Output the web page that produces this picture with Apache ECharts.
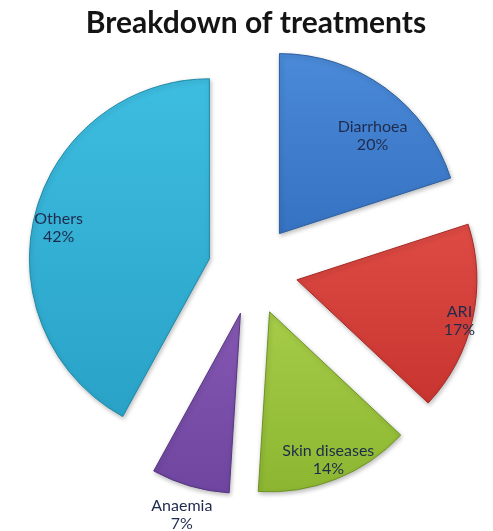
<!DOCTYPE html>
<html>
<head>
<meta charset="utf-8">
<title>Breakdown of treatments</title>
<script src="https://cdn.jsdelivr.net/npm/echarts@6/dist/echarts.min.js"></script>
<style>
  html, body { margin: 0; padding: 0; background: #fff; }
  #chart { width: 493px; height: 531px; }
</style>
</head>
<body>
<div id="chart"></div>
<script>
// data
var categories = ['Diarrhoea', 'ARI', 'Skin diseases', 'Anaemia', 'Others'];
var shares = [20, 17, 14, 7, 42];

// look of each slice (top colour, bottom colour, edge)
var topColors = ['#4a8ad8', '#de4a44', '#a6cc48', '#8558b2', '#3dbde0'];
var bottomColors = ['#3672c2', '#c8342f', '#8cb631', '#6e45a0', '#2aa2c8'];
var edgeColors = ['#2d5f9e', '#a52a26', '#6f9226', '#563581', '#228aa8'];
// how far out each label sits, as a share of the radius, plus a small nudge
var labelReach = [0.75, 0.92, 0.87, 1.15, 0.86];
var labelNudge = [[12, 14], [-2, 4], [0, 0], [0, 0], [2, 8]];

var R = 180;
var CENTER = [253, 270];
var OFFSET = 45;

var chart = echarts.init(document.getElementById('chart'));

function sliceData(showLabelFor) {
    return categories.map(function (name, i) {
        return {
            name: name,
            value: shares[i],
            selected: true,
            label: { show: showLabelFor === i }
        };
    });
}

function fill(i) {
    return new echarts.graphic.LinearGradient(0, 0, 0, 1, [
        { offset: 0, color: topColors[i] },
        { offset: 1, color: bottomColors[i] }
    ]);
}

// a centred label moves sideways by half of any one-sided padding
function sidePadding(n) {
    return [0, Math.max(-2 * n[0], 0), 0, Math.max(2 * n[0], 0)];
}

var series = [{
    type: 'pie',
    center: CENTER,
    radius: [0, R],
    startAngle: 90,
    selectedMode: 'multiple',
    selectedOffset: OFFSET,
    silent: true,
    animation: false,
    label: { show: false },
    labelLine: { show: false },
    emphasis: { disabled: true },
    data: categories.map(function (name, i) {
        return {
            name: name,
            value: shares[i],
            selected: true,
            itemStyle: {
                color: fill(i),
                borderColor: edgeColors[i],
                borderWidth: 1,
                shadowColor: 'rgba(0,0,0,0.25)',
                shadowBlur: 4,
                shadowOffsetX: 1,
                shadowOffsetY: 2
            },
            select: {
                itemStyle: {
                    color: fill(i),
                    borderColor: edgeColors[i],
                    borderWidth: 1
                }
            }
        };
    })
}];

// label-only rings, one per slice, so each label lands where it does in the picture
labelReach.forEach(function (f, i) {
    var dy = labelNudge[i][1];
    series.push({
        type: 'pie',
        center: CENTER,
        radius: [(f - 0.05) * R, (f + 0.05) * R],
        startAngle: 90,
        selectedMode: 'multiple',
        selectedOffset: OFFSET,
        silent: true,
        animation: false,
        z: 5,
        itemStyle: { color: 'rgba(0,0,0,0)', borderWidth: 0 },
        select: { itemStyle: { color: 'rgba(0,0,0,0)', borderWidth: 0 } },
        emphasis: { disabled: true },
        labelLine: { show: false },
        label: {
            position: 'inside',
            formatter: (dy > 0 ? '{g|}\n' : '') + '{b}\n{d}%',
            fontFamily: 'Lato',
            fontSize: 16,
            lineHeight: 18,
            color: '#1f2b4c',
            align: 'center',
            padding: sidePadding(labelNudge[i]),
            rich: { g: { lineHeight: 2 * dy, height: 2 * dy, fontSize: 1 } }
        },
        data: sliceData(i)
    });
});

chart.setOption({
    backgroundColor: '#ffffff',
    title: {
        text: 'Breakdown of treatments',
        left: 251,
        top: 3,
        textAlign: 'center',
        textStyle: {
            fontFamily: 'Lato',
            fontWeight: 'bold',
            fontSize: 30,
            color: '#141414'
        }
    },
    series: series
});
</script>
</body>
</html>
